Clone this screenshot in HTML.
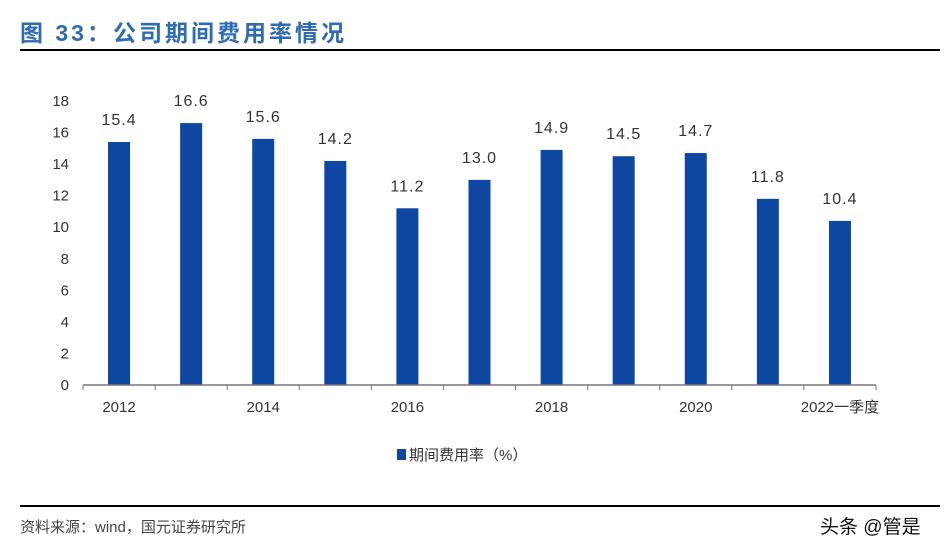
<!DOCTYPE html>
<html><head><meta charset="utf-8"><style>
body{margin:0;background:#fff;width:951px;height:554px;overflow:hidden;font-family:"Liberation Sans","Noto Sans CJK SC",sans-serif}
</style></head><body>
<svg width="951" height="554">
<text x="20" y="41" font-size="23" font-weight="bold" fill="#2e6bb5" letter-spacing="3" font-family="Liberation Sans,Noto Sans CJK SC,sans-serif">图 33：公司期间费用率情况</text>
<rect x="20" y="49" width="920" height="2" fill="#000"/>
<g id="plot"></g>
<rect x="397" y="449" width="9" height="11" fill="#0d47a1"/>
<text x="409" y="460" font-size="15" fill="#333">期间费用率（%）</text>
<rect x="20" y="505" width="920" height="2" fill="#000"/>
<text x="20" y="532" font-size="15" fill="#444">资料来源：wind，国元证券研究所</text>
<text x="820" y="533" font-size="19" fill="#111">头条 @管是</text>
</svg>
<script>
const categories=["2012","2013","2014","2015","2016","2017","2018","2019","2020","2021","2022一季度"];
const values=[15.4,16.6,15.6,14.2,11.2,13.0,14.9,14.5,14.7,11.8,10.4];
const yTicks=[0,2,4,6,8,10,12,14,16,18];
const xLabelShown=[true,false,true,false,true,false,true,false,true,false,true];
const NS="http://www.w3.org/2000/svg";
const g=document.getElementById('plot');
const x0=83,x1=876,y0=385,y1=101,ymax=18;
const band=(x1-x0)/categories.length;
const ys=v=>y0-(v/ymax)*(y0-y1);
const xc=i=>x0+band*(i+0.5);
function mk(t,a){const e=document.createElementNS(NS,t);for(const k in a)e.setAttribute(k,a[k]);g.appendChild(e);return e;}
yTicks.forEach(t=>{
 const e=mk('text',{x:x0-14,y:ys(t)+5,'font-size':15,fill:'#333','text-anchor':'end'});e.textContent=t;
 
 
});
values.forEach((v,i)=>{
 const b=mk('rect',{x:xc(i)-11,y:ys(v),width:22,height:y0-ys(v),fill:'#0d47a1'});
 
 
 const l=mk('text',{x:xc(i),y:ys(v)-17,'font-size':16,fill:'#333','text-anchor':'middle','letter-spacing':'1'});l.textContent=v.toFixed(1);
 
 
 if(xLabelShown[i]){const c=mk('text',{x:xc(i),y:412,'font-size':15,fill:'#333','text-anchor':'middle'});c.textContent=categories[i];
 
 }
});
const ax=mk('line',{x1:x0,y1:y0,x2:x1,y2:y0,stroke:'#777','stroke-width':1.5});


for(let i=0;i<=categories.length;i++){const t=mk('line',{x1:x0+band*i,y1:y0,x2:x0+band*i,y2:y0+5,stroke:'#777'});
 
 }
</script>
</body></html>
